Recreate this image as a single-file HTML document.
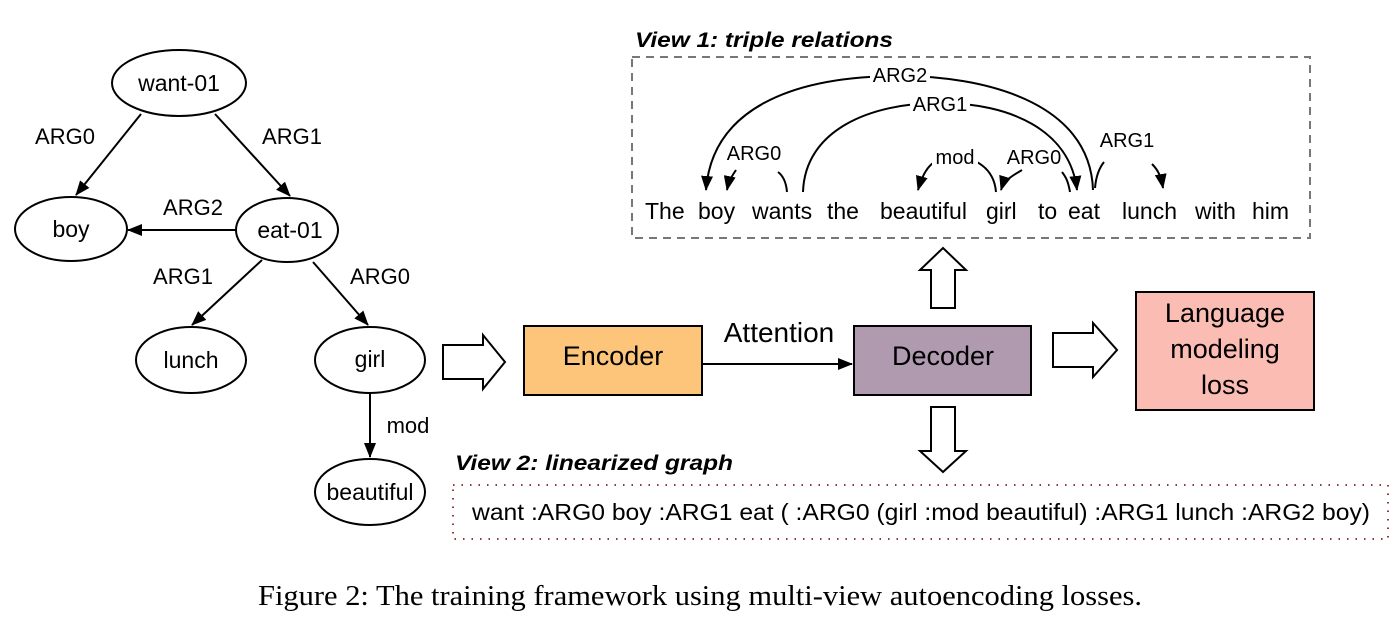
<!DOCTYPE html>
<html><head><meta charset="utf-8"><style>
html,body{margin:0;padding:0;background:#fff;}
svg{display:block;}
text{font-family:"Liberation Sans",sans-serif;fill:#000;}
</style></head><body>
<svg width="1400" height="628" viewBox="0 0 1400 628" xmlns="http://www.w3.org/2000/svg">
<defs>
<marker id="ah" markerWidth="15" markerHeight="12" refX="14" refY="6" orient="auto" markerUnits="userSpaceOnUse"><path d="M0,0 L15,6 L0,12 z" fill="#000"/></marker>
</defs>
<g fill="#fff" stroke="#000" stroke-width="2">
<ellipse cx="179" cy="83" rx="67" ry="33"/>
<ellipse cx="71" cy="229" rx="56" ry="32"/>
<ellipse cx="287" cy="230" rx="51" ry="32"/>
<ellipse cx="191" cy="360" rx="55" ry="33"/>
<ellipse cx="370" cy="360" rx="55" ry="33"/>
<ellipse cx="370" cy="492" rx="55" ry="33"/>
</g>
<g font-size="23" text-anchor="middle">
<text x="179" y="91">want-01</text>
<text x="71" y="237">boy</text>
<text x="290" y="238">eat-01</text>
<text x="191" y="368">lunch</text>
<text x="370" y="367">girl</text>
<text x="370" y="500">beautiful</text>
</g>
<g stroke="#000" stroke-width="2" fill="none" marker-end="url(#ah)">
<line x1="141" y1="114" x2="76" y2="195"/>
<line x1="215" y1="114" x2="290" y2="196"/>
<line x1="236" y1="230" x2="128" y2="230"/>
<line x1="262" y1="260" x2="192" y2="325"/>
<line x1="313" y1="262" x2="368" y2="325"/>
<line x1="370" y1="393" x2="370" y2="457"/>
</g>
<g font-size="22" text-anchor="middle">
<text x="65" y="144">ARG0</text>
<text x="292" y="144">ARG1</text>
<text x="193" y="215">ARG2</text>
<text x="183" y="284">ARG1</text>
<text x="380" y="284">ARG0</text>
<text x="408" y="433">mod</text>
</g>
<g fill="#fff" stroke="#000" stroke-width="2">
<path d="M443,345 L483,345 L483,335 L505,362 L483,389 L483,379 L443,379 z"/>
<path d="M1053,333 L1093,333 L1093,323 L1117,350 L1093,377 L1093,367 L1053,367 z"/>
<path d="M931,308 L931,270 L920,270 L943,248 L966,270 L955,270 L955,308 z"/>
<path d="M931,407 L955,407 L955,451 L966,451 L943,472 L920,451 L931,451 z"/>
</g>
<rect x="524" y="326" width="178" height="69" fill="#fdc57a" stroke="#000" stroke-width="2"/>
<rect x="854" y="326" width="177" height="69" fill="#af9ab0" stroke="#000" stroke-width="2"/>
<rect x="1136" y="292" width="178" height="118" fill="#fbbcb3" stroke="#000" stroke-width="2"/>
<line x1="702" y1="364" x2="852" y2="364" stroke="#000" stroke-width="2" marker-end="url(#ah)"/>
<g font-size="27" text-anchor="middle">
<text x="613" y="365">Encoder</text>
<text x="943" y="365">Decoder</text>
<text x="779" y="342" font-size="28">Attention</text>
<text x="1225" y="322">Language</text>
<text x="1225" y="358">modeling</text>
<text x="1225" y="394">loss</text>
</g>
<text x="635" y="47" font-size="21" font-weight="bold" font-style="italic" textLength="258" lengthAdjust="spacingAndGlyphs">View 1: triple relations</text>
<rect x="632" y="57" width="678" height="181" fill="none" stroke="#777" stroke-width="2" stroke-dasharray="8,6"/>
<g font-size="23">
<text x="645" y="219">The</text>
<text x="698" y="219">boy</text>
<text x="752" y="219">wants</text>
<text x="827" y="219">the</text>
<text x="880" y="219">beautiful</text>
<text x="986" y="219">girl</text>
<text x="1038" y="219">to</text>
<text x="1068" y="219">eat</text>
<text x="1122" y="219">lunch</text>
<text x="1195" y="219">with</text>
<text x="1252" y="219">him</text>
</g>
<g stroke="#000" stroke-width="2" fill="none" marker-end="url(#ah)">
<path d="M1093,190 C1090,100 980,76 900,76 C790,76 712,110 706,190"/>
<path d="M803,192 C805,130 870,103 940,103 C1010,103 1070,130 1077,190"/>
<path d="M996,192 C994,168 975,157 955,157 C935,157 925,165 918,190"/>
<path d="M1152,164 C1158,170 1161,176 1163,188"/>
<path d="M736,170 C732,176 729,180 727,190"/>
<path d="M1022,170 C1012,176 1004,180 1001,190"/>
</g>
<g stroke="#000" stroke-width="2" fill="none">
<path d="M787,192 C786,180 782,175 778,172"/>
<path d="M1070,192 C1068,180 1065,176 1062,172"/>
<path d="M1095,188 C1096,176 1100,167 1104,162"/>
</g>
<g font-size="20" text-anchor="middle">
<rect x="870" y="64" width="60" height="22" fill="#fff"/>
<text x="900" y="82">ARG2</text>
<rect x="910" y="93" width="60" height="22" fill="#fff"/>
<text x="940" y="111">ARG1</text>
<text x="754" y="160">ARG0</text>
<rect x="932" y="146" width="46" height="20" fill="#fff"/>
<text x="955" y="164">mod</text>
<text x="1034" y="164">ARG0</text>
<text x="1127" y="147">ARG1</text>
</g>
<text x="455" y="470" font-size="21" font-weight="bold" font-style="italic" textLength="278" lengthAdjust="spacingAndGlyphs">View 2: linearized graph</text>
<rect x="453" y="485" width="935" height="54" fill="none" stroke="#8b3a3a" stroke-width="2" stroke-dasharray="1.5,7"/>
<text x="472" y="520" font-size="23" textLength="898" lengthAdjust="spacingAndGlyphs">want :ARG0 boy :ARG1 eat ( :ARG0 (girl :mod beautiful) :ARG1 lunch :ARG2 boy)</text>
<text x="258" y="605" font-size="29" textLength="884" lengthAdjust="spacingAndGlyphs" style="font-family:'Liberation Serif',serif">Figure 2: The training framework using multi-view autoencoding losses.</text>
</svg>
</body></html>
